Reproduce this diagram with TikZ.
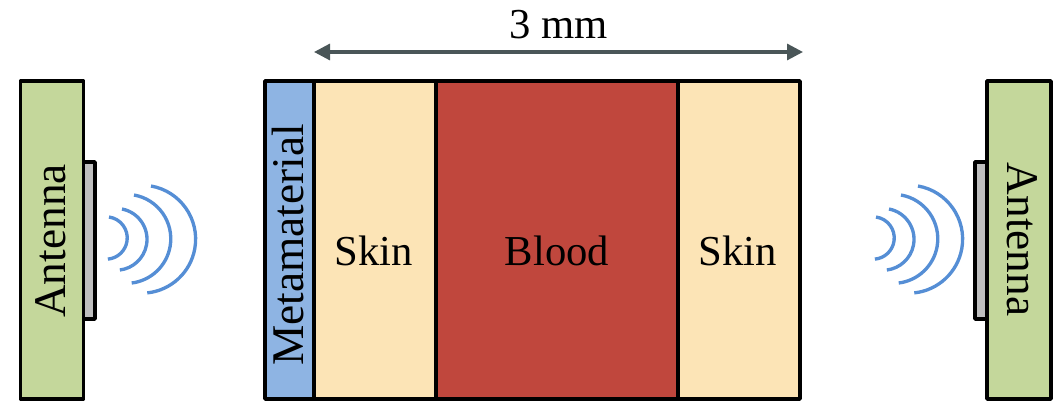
\documentclass[tikz,border=0pt]{standalone}
\usepackage{fontspec}
\setmainfont{Liberation Serif}
\usetikzlibrary{arrows.meta}
\definecolor{antgreen}{HTML}{C4D79B}
\definecolor{metablue}{HTML}{8EB4E3}
\definecolor{skinc}{HTML}{FCE4B6}
\definecolor{bloodc}{HTML}{C0473D}
\definecolor{patchc}{HTML}{BFBFBF}
\definecolor{wavec}{HTML}{558ED5}
\definecolor{dimc}{HTML}{4A5658}
\newcommand{\pxu}{0.75pt}
\tikzset{
  x=0.75pt, y=-0.75pt,
  box/.style={draw=black, line width=2.8pt, outer sep=0pt, inner sep=0pt, line join=round},
  wave/.style={draw=wavec, line width=2.5pt},
  lab/.style={font=\fontsize{32}{32}\selectfont, inner sep=0pt, anchor=base},
  rlab/.style={font=\fontsize{34}{34}\selectfont, inner sep=0pt, anchor=base},
  dimarrow/.style={draw=dimc, line width=2.4pt, {Triangle[length=12pt,width=12pt]}-{Triangle[length=12pt,width=12pt]}}
}
\newcommand{\wavearcs}[1]{%
  \draw[wave] (151+#1,186) arc[start angle=80,end angle=-84,radius=54*\pxu];
  \draw[wave] (134+#1,195) arc[start angle=80,end angle=-83,radius=44.5*\pxu];
  \draw[wave] (122+#1,209) arc[start angle=79,end angle=-83,radius=30.9*\pxu];
  \draw[wave] (109+#1,217) arc[start angle=82,end angle=-85,radius=21.2*\pxu];
}
\begin{document}
\begin{tikzpicture}
\useasboundingbox (0,0) rectangle (1063,402);
% patches (behind antennas)
\node[box, fill=patchc, minimum width=18*\pxu, minimum height=157*\pxu] (patchL) at (86,240.5) {};
\node[box, fill=patchc, minimum width=18*\pxu, minimum height=157*\pxu] (patchR) at (984,240.5) {};
% antennas
\node[box, fill=antgreen, minimum width=63*\pxu, minimum height=318*\pxu] (antL) at (52,240) {};
\node[box, fill=antgreen, minimum width=64*\pxu, minimum height=318*\pxu] (antR) at (1019,240) {};
% layers
\node[box, fill=metablue, minimum width=49*\pxu, minimum height=318*\pxu] (meta) at (289.5,240) {};
\node[box, fill=skinc, minimum width=122*\pxu, minimum height=318*\pxu] (skinA) at (375,240) {};
\node[box, fill=bloodc, minimum width=242*\pxu, minimum height=318*\pxu] (blood) at (557,240) {};
\node[box, fill=skinc, minimum width=122*\pxu, minimum height=318*\pxu] (skinB) at (739,240) {};
% labels
\node[rlab, rotate=90] (tAntL) at (65,241) {Antenna};
\node[rlab, rotate=-90] (tAntR) at (1007,239.5) {Antenna};
\node[rlab, rotate=90] (tMeta) at (303,245) {Metamaterial};
\node[lab] (tSkinA) at (374,266) {Skin};
\node[lab] (tBlood) at (557,266) {Blood};
\node[lab] (tSkinB) at (738,266) {Skin};
\node[lab] (tDim) at (558.5,38.5) {3 mm};
% waves
\wavearcs{0}
\wavearcs{767}
% dimension
\coordinate (dimL) at (314,52);
\coordinate (dimR) at (803,52);
\draw[dimarrow] (dimL) -- (dimR);
\end{tikzpicture}
\end{document}
